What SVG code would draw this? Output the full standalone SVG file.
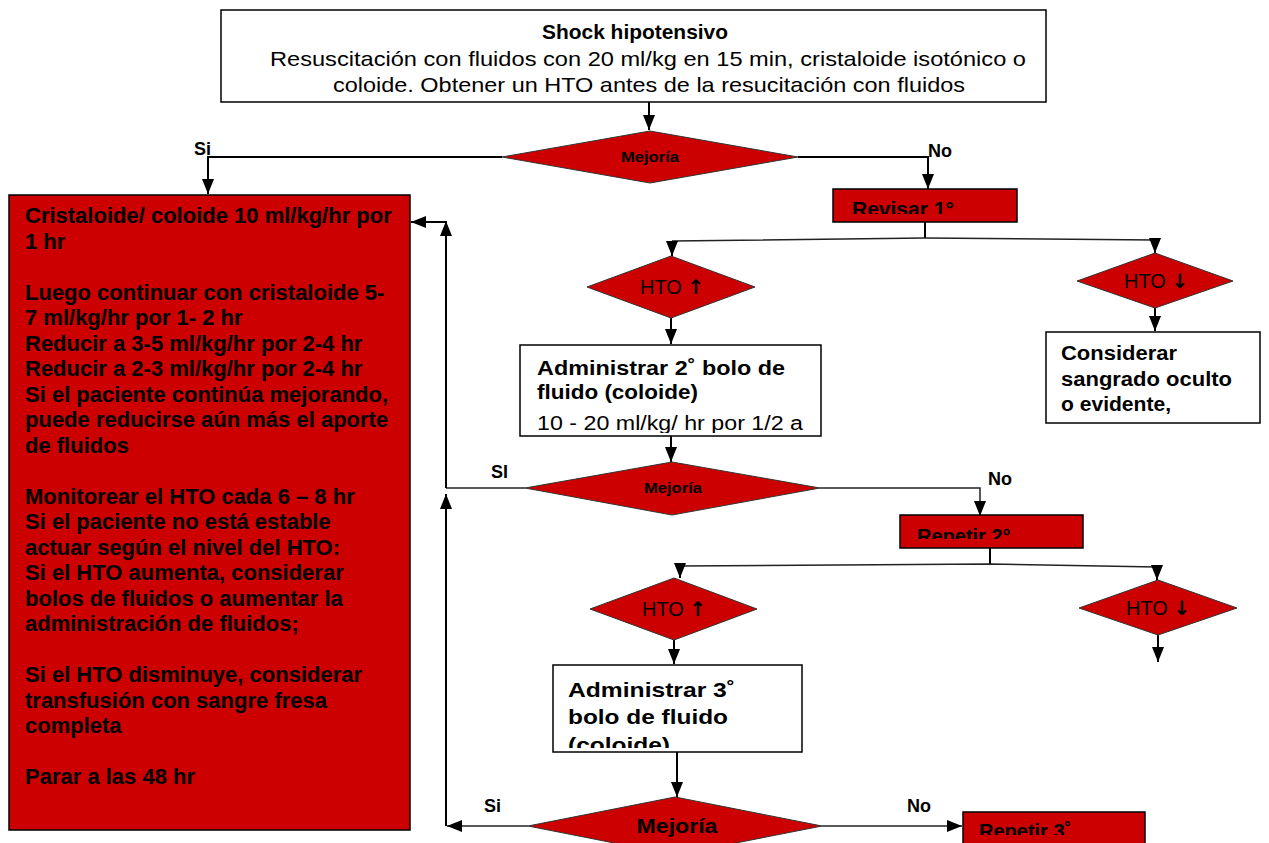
<svg xmlns="http://www.w3.org/2000/svg" width="1269" height="843" viewBox="0 0 1269 843">
<style>
.box{fill:#fff;stroke:#000;stroke-width:1.5}
.red{fill:#cc0000;stroke:#000;stroke-width:1.5}
.dia{fill:#cc0000;stroke:#333;stroke-width:1}
.t{font-family:"Liberation Sans",Arial,sans-serif;fill:#000}
.b{font-weight:bold}
.ln{fill:none;stroke:#000;stroke-width:2}
.lnl{fill:none;stroke:#222;stroke-width:1.5}
.arr{font-family:"DejaVu Sans","Liberation Sans",sans-serif;font-weight:bold}
</style>
<defs>
<marker id="ah" markerUnits="userSpaceOnUse" markerWidth="16" markerHeight="16" viewBox="0 0 16 16" refX="15" refY="8" orient="auto">
<path d="M0,2 L15,8 L0,14 Z" fill="#000"/>
</marker>
<clipPath id="cRev"><rect x="833" y="189" width="184" height="25"/></clipPath>
<clipPath id="cRep2"><rect x="900" y="515" width="183" height="24"/></clipPath>
<clipPath id="cRep3"><rect x="963" y="812" width="182" height="23"/></clipPath>
<clipPath id="cAd2"><rect x="520" y="345" width="301" height="88"/></clipPath>
<clipPath id="cAd3"><rect x="553" y="665" width="249" height="83"/></clipPath>
</defs>

<g id="connectors">
<path class="ln" d="M649,102 V130" marker-end="url(#ah)"/>
<path class="ln" d="M502,157 H208 V194" marker-end="url(#ah)"/>
<path class="ln" d="M798,157 H928 V189" marker-end="url(#ah)"/>
<path class="ln" d="M925,222 V238"/>
<path class="lnl" d="M672,241 L925,238 L1155,240"/>
<path class="ln" d="M672,241 V256" marker-end="url(#ah)"/>
<path class="ln" d="M1155,240 V253" marker-end="url(#ah)"/>
<path class="ln" d="M671,318 V344" marker-end="url(#ah)"/>
<path class="ln" d="M1155,308 V331" marker-end="url(#ah)"/>
<path class="ln" d="M671,436 V462" marker-end="url(#ah)"/>
<path class="lnl" d="M525,488 H446"/>
<path class="ln" d="M446,488 V221" marker-end="url(#ah)"/>
<path class="ln" d="M446,222 H411" marker-end="url(#ah)"/>
<path class="lnl" d="M820,488 H980 V516" marker-end="url(#ah)"/>
<path class="ln" d="M990,548 V564"/>
<path class="lnl" d="M680,566 L990,564 L1157,567"/>
<path class="ln" d="M680,566 V578" marker-end="url(#ah)"/>
<path class="ln" d="M1157,567 V580" marker-end="url(#ah)"/>
<path class="ln" d="M674,640 V664" marker-end="url(#ah)"/>
<path class="ln" d="M1158,635 V662" marker-end="url(#ah)"/>
<path class="ln" d="M677,752 V797" marker-end="url(#ah)"/>
<path class="lnl" d="M528,826 H447" marker-end="url(#ah)"/>
<path class="ln" d="M446,826 V494" marker-end="url(#ah)"/>
<path class="lnl" d="M822,826 H962" marker-end="url(#ah)"/>
</g>

<g id="start">
<rect class="box" x="221" y="10" width="825" height="92"/>
<text class="t b" x="635" y="39" font-size="20.5" text-anchor="middle" textLength="186" lengthAdjust="spacingAndGlyphs">Shock hipotensivo</text>
<text class="t" x="648" y="66" font-size="21" text-anchor="middle" textLength="756" lengthAdjust="spacingAndGlyphs">Resuscitación con fluidos con 20 ml/kg en 15 min, cristaloide isotónico o</text>
<text class="t" x="649" y="92" font-size="21" text-anchor="middle" textLength="632" lengthAdjust="spacingAndGlyphs">coloide. Obtener un HTO antes de la resucitación con fluidos</text>
</g>

<g id="mejoria1">
<polygon class="dia" points="502,157 650,131 798,157 650,183"/>
<text class="t b" x="650" y="162" font-size="14" text-anchor="middle" textLength="58" lengthAdjust="spacingAndGlyphs">Mejoría</text>
</g>
<g id="label-si1"><text class="t b" x="194" y="155" font-size="18">Si</text></g>
<g id="label-no1"><text class="t b" x="928" y="157" font-size="18">No</text></g>

<g id="plan">
<rect class="red" x="9" y="195" width="401" height="635"/>
<g class="t b" font-size="22">
<text x="25" y="223">Cristaloide/ coloide 10 ml/kg/hr por</text>
<text x="25" y="248.5">1 hr</text>
<text x="25" y="299.5">Luego continuar con cristaloide 5-</text>
<text x="25" y="325">7 ml/kg/hr por 1- 2 hr</text>
<text x="25" y="350.5">Reducir a 3-5 ml/kg/hr por 2-4 hr</text>
<text x="25" y="376">Reducir a 2-3 ml/kg/hr por 2-4 hr</text>
<text x="25" y="401.5">Si el paciente continúa mejorando,</text>
<text x="25" y="427">puede reducirse aún más el aporte</text>
<text x="25" y="452.5">de fluidos</text>
<text x="25" y="503.5">Monitorear el HTO cada 6 – 8 hr</text>
<text x="25" y="529">Si el paciente no está estable</text>
<text x="25" y="554.5">actuar según el nivel del HTO:</text>
<text x="25" y="580">Si el HTO aumenta, considerar</text>
<text x="25" y="605.5">bolos de fluidos o aumentar la</text>
<text x="25" y="631">administración de fluidos;</text>
<text x="25" y="682">Si el HTO disminuye, considerar</text>
<text x="25" y="707.5">transfusión con sangre fresa</text>
<text x="25" y="733">completa</text>
<text x="25" y="784">Parar a las 48 hr</text>
</g>
</g>

<g id="revisar1">
<rect class="red" x="833" y="189" width="184" height="33"/>
<text class="t b" x="852" y="216" font-size="21" clip-path="url(#cRev)">Revisar 1°</text>
</g>

<g id="hto-up1">
<polygon class="dia" points="587,287 671,256 755,287 671,318"/>
<text class="t" x="640" y="294" font-size="20">HTO <tspan class="arr" font-size="20">↑</tspan></text>
</g>
<g id="hto-down1">
<polygon class="dia" points="1077,281 1155,253 1233,281 1155,308"/>
<text class="t" x="1124" y="288" font-size="20">HTO <tspan class="arr" font-size="20">↓</tspan></text>
</g>

<g id="admin2">
<rect class="box" x="520" y="345" width="301" height="91"/>
<g clip-path="url(#cAd2)">
<text class="t b" x="537" y="375" font-size="20" textLength="248" lengthAdjust="spacingAndGlyphs">Administrar 2˚ bolo de</text>
<text class="t b" x="537" y="399" font-size="20" textLength="161" lengthAdjust="spacingAndGlyphs">fluido (coloide)</text>
<text class="t" x="537" y="430" font-size="20" textLength="266" lengthAdjust="spacingAndGlyphs">10 - 20 ml/kg/ hr por 1/2 a</text>
</g>
</g>

<g id="sangrado">
<rect class="box" x="1046" y="332" width="214" height="91"/>
<text class="t b" x="1061" y="360" font-size="20" textLength="116" lengthAdjust="spacingAndGlyphs">Considerar</text>
<text class="t b" x="1061" y="386" font-size="20" textLength="171" lengthAdjust="spacingAndGlyphs">sangrado oculto</text>
<text class="t b" x="1061" y="411" font-size="20" textLength="110" lengthAdjust="spacingAndGlyphs">o evidente,</text>
</g>

<g id="mejoria2">
<polygon class="dia" points="525,488 672,462 820,488 672,515"/>
<text class="t b" x="673" y="493" font-size="14" text-anchor="middle" textLength="58" lengthAdjust="spacingAndGlyphs">Mejoría</text>
</g>
<g id="label-si2"><text class="t b" x="491" y="478" font-size="18">SI</text></g>
<g id="label-no2"><text class="t b" x="988" y="485" font-size="18">No</text></g>

<g id="repetir2">
<rect class="red" x="900" y="515" width="183" height="33"/>
<text class="t b" x="917" y="543" font-size="20" clip-path="url(#cRep2)">Repetir 2°</text>
</g>

<g id="hto-up2">
<polygon class="dia" points="590,609 674,578 757,609 674,640"/>
<text class="t" x="642" y="616" font-size="20">HTO <tspan class="arr" font-size="20">↑</tspan></text>
</g>
<g id="hto-down2">
<polygon class="dia" points="1079,608 1158,580 1237,608 1158,635"/>
<text class="t" x="1126" y="615" font-size="20">HTO <tspan class="arr" font-size="20">↓</tspan></text>
</g>

<g id="admin3">
<rect class="box" x="553" y="665" width="249" height="87"/>
<g clip-path="url(#cAd3)">
<text class="t b" x="568" y="697" font-size="21" textLength="167" lengthAdjust="spacingAndGlyphs">Administrar 3˚</text>
<text class="t b" x="568" y="724" font-size="21" textLength="160" lengthAdjust="spacingAndGlyphs">bolo de fluido</text>
<text class="t b" x="568" y="752" font-size="21" textLength="102" lengthAdjust="spacingAndGlyphs">(coloide)</text>
</g>
</g>

<g id="mejoria3">
<polygon class="dia" points="528,826 675,797 822,826 675,855"/>
<text class="t b" x="677" y="833" font-size="20" text-anchor="middle" textLength="81" lengthAdjust="spacingAndGlyphs">Mejoría</text>
</g>
<g id="label-si3"><text class="t b" x="484" y="812" font-size="18">Si</text></g>
<g id="label-no3"><text class="t b" x="907" y="812" font-size="18">No</text></g>

<g id="repetir3">
<rect class="red" x="963" y="812" width="182" height="40"/>
<text class="t b" x="979" y="838" font-size="20" clip-path="url(#cRep3)">Repetir 3˚</text>
</g>
</svg>
